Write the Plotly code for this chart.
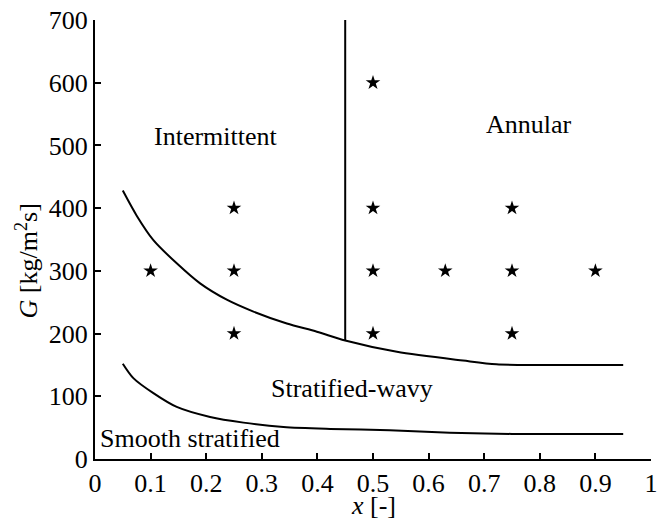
import plotly.graph_objects as go

# Upper boundary (intermittent/annular vs stratified-wavy)
upper_x = [0.05, 0.075, 0.105, 0.147, 0.189, 0.237, 0.285, 0.345, 0.399, 0.45, 0.543, 0.662, 0.722, 0.80, 0.95]
upper_g = [428, 388, 349, 312, 280, 254, 235, 216, 203, 189, 171, 157, 151, 150, 150]

# Lower boundary (stratified-wavy vs smooth stratified)
lower_x = [0.05, 0.069, 0.105, 0.147, 0.207, 0.267, 0.339, 0.423, 0.53, 0.638, 0.75, 0.95]
lower_g = [152, 129, 105, 83, 67, 58, 51, 48, 46, 42, 40, 40]

# Vertical boundary intermittent / annular
vert_x = [0.45, 0.45]
vert_g = [189, 700]

# Experimental points
pts_x = [0.1, 0.25, 0.25, 0.25, 0.5, 0.5, 0.5, 0.5, 0.63, 0.75, 0.75, 0.75, 0.9]
pts_g = [300, 200, 300, 400, 200, 300, 400, 600, 300, 200, 300, 400, 300]

labels = ["Intermittent", "Annular", "Stratified-wavy", "Smooth stratified"]
label_x = [0.217, 0.78, 0.463, 0.17]
label_g = [515, 533, 113, 33]

x_ticks = [0, 0.1, 0.2, 0.3, 0.4, 0.5, 0.6, 0.7, 0.8, 0.9, 1]
x_ticktext = ["0", "0.1", "0.2", "0.3", "0.4", "0.5", "0.6", "0.7", "0.8", "0.9", "1"]
g_ticks = [0, 100, 200, 300, 400, 500, 600, 700]

FONT = "Liberation Serif"
FS = 26

fig = go.Figure()
line_style = dict(color="black", width=2)
fig.add_trace(go.Scatter(x=upper_x, y=upper_g, mode="lines",
                         line=dict(**line_style, shape="spline", smoothing=0.8), showlegend=False))
fig.add_trace(go.Scatter(x=lower_x, y=lower_g, mode="lines",
                         line=dict(**line_style, shape="spline", smoothing=0.8), showlegend=False))
fig.add_trace(go.Scatter(x=vert_x, y=vert_g, mode="lines", line=line_style, showlegend=False, cliponaxis=False))
fig.add_trace(go.Scatter(x=pts_x, y=pts_g, mode="markers",
                         marker=dict(symbol="star", size=11, color="black"), showlegend=False))

for t, lx, lg in zip(labels, label_x, label_g):
    fig.add_annotation(x=lx, y=lg, text=t, showarrow=False,
                       font=dict(family=FONT, size=FS, color="black"))

# Axis titles
fig.add_annotation(xref="paper", yref="paper", x=0.50, y=0, yshift=-46,
                   text="<i>x</i> [-]", showarrow=False, yanchor="middle",
                   font=dict(family=FONT, size=FS, color="black"))
fig.add_annotation(xref="paper", yref="paper", x=0, xshift=-68, y=0.45,
                   text="<i>G</i> [kg/m<sup>2</sup>s]", showarrow=False, textangle=-90,
                   xanchor="center", yanchor="middle",
                   font=dict(family=FONT, size=FS, color="black"))

fig.update_layout(
    width=658, height=520,
    margin=dict(l=95, r=7, t=20, b=61, autoexpand=False),
    plot_bgcolor="white", paper_bgcolor="white",
    font=dict(family=FONT, size=FS, color="black"),
)
fig.update_xaxes(range=[0, 1], tickvals=x_ticks, ticktext=x_ticktext,
                 tickfont=dict(family=FONT, size=FS, color="black"),
                 showline=True, linecolor="black", linewidth=2, mirror=False,
                 ticks="inside", ticklen=6, tickwidth=2, tickcolor="black",
                 showgrid=False, zeroline=False, automargin=False)
fig.update_yaxes(range=[0, 700], tickvals=g_ticks,
                 tickfont=dict(family=FONT, size=FS, color="black"),
                 showline=True, linecolor="black", linewidth=2, mirror=False,
                 ticks="inside", ticklen=6, tickwidth=2, tickcolor="black",
                 showgrid=False, zeroline=False, automargin=False)

fig.write_html("out.html", config={"displayModeBar": False},
               post_script="document.body.style.margin='0px';document.body.style.overflow='hidden';")
